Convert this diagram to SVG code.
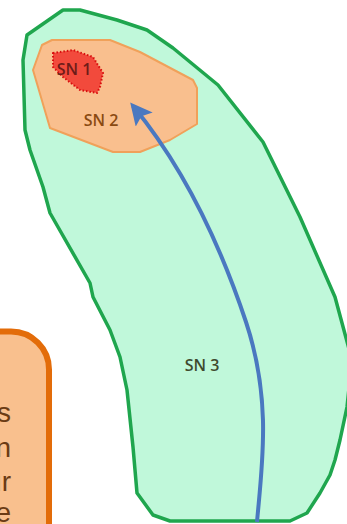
<svg xmlns="http://www.w3.org/2000/svg" width="347" height="524" viewBox="0 0 347 524">
<defs>
<style>
.lbl{font-family:"Open Sans","Liberation Sans",sans-serif;font-size:16px;font-weight:600;text-anchor:middle}
.note{font-family:"Liberation Sans",Arial,sans-serif;font-size:28px;fill:#6b3b14;text-anchor:end}
</style>
<marker id="ah" viewBox="0 0 10 10" refX="8" refY="5" markerWidth="5.5" markerHeight="5.5" orient="auto" markerUnits="strokeWidth">
<path d="M0,0 L10,5 L0,10 L2,5 Z" fill="#4a78c0"/>
</marker>
</defs>
<rect width="347" height="524" fill="#ffffff"/>
<g id="sn3">
<path d="M63,10 L80,10 L117,20 L147,30 L173,48 L218,85 L263,142 L300,217 L335,297 L352,360 L347,407 L340,440 L335,460 L330,475 L320,493 L307,513 L290,521 L170,521 L153,515 L137,493 L133,447 L127,390 L120,357 L110,330 L93,297 L90,283 L50,213 L43,187 L30,150 L25,130 L23,60 L27,35 Z" fill="#c0f8da" stroke="#1fa64e" stroke-width="3.5" stroke-linejoin="round"/>
<text class="lbl" x="202" y="371" fill="#3f4a2e">SN 3</text>
</g>
<g id="sn2">
<path d="M42,45 L52,40 L110,40 L140,52 L193,80 L197,88 L197,124 L170,140 L140,152 L113,152 L50,128 L33,70 Z" fill="#f9bf8e" stroke="#f0a15a" stroke-width="2" stroke-linejoin="round"/>
<text class="lbl" x="101" y="126" fill="#8a4a12">SN 2</text>
</g>
<g id="sn1">
<path d="M53,53 L73,50 L93,57 L103,73 L100,87 L97,93 L80,90 L63,77 L53,67 Z" fill="#f24a3c" stroke="#d80d0d" stroke-width="2" stroke-dasharray="1.5,2" stroke-linejoin="round"/>
<text class="lbl" x="74" y="75" fill="#6e1c18">SN 1</text>
</g>
<g id="connectors">
<path d="M257,522 C262,465 272,400 246,322 C226,262 190,175 133,106" fill="none" stroke="#4a78c0" stroke-width="4" marker-end="url(#ah)"/>
</g>
<g id="note">
<rect x="-50" y="331.5" width="99" height="250" rx="38" ry="38" fill="#f9c08e" stroke="#e36c09" stroke-width="6"/>
<text class="note" x="11" y="422">s</text>
<text class="note" x="11" y="457">n</text>
<text class="note" x="11" y="491">ur</text>
<text class="note" x="11" y="522">e</text>
</g>
</svg>
